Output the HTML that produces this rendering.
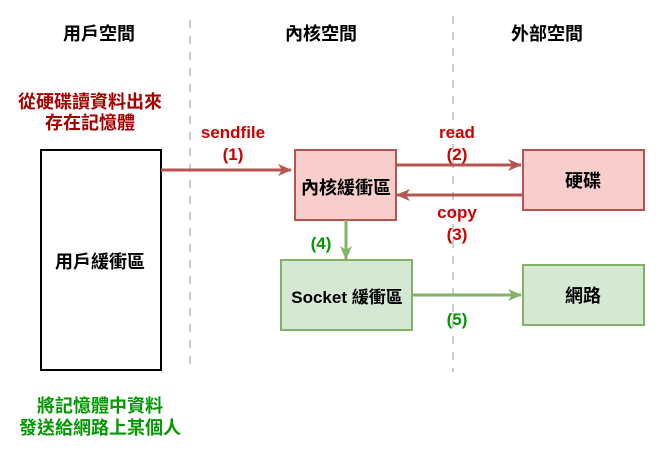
<!DOCTYPE html>
<html><head><meta charset="utf-8"><style>
body{margin:0;width:661px;height:451px;background:#fff;overflow:hidden}
svg text{font-family:"Liberation Sans","Noto Sans CJK TC",sans-serif;font-weight:bold;text-anchor:middle}
</style></head><body>
<svg width="661" height="451" viewBox="0 0 661 451">
<defs>
<marker id="ar" markerWidth="14" markerHeight="14" refX="13" refY="7" orient="auto" markerUnits="userSpaceOnUse"><path d="M0,1 L14,7 L0,13 L4,7 z" fill="#b85450"/></marker>
<marker id="ag" markerWidth="14" markerHeight="14" refX="13" refY="7" orient="auto" markerUnits="userSpaceOnUse"><path d="M0,1 L14,7 L0,13 L4,7 z" fill="#82b366"/></marker>
</defs>
<line x1="190" y1="20" x2="190" y2="372" stroke="#ccc" stroke-width="2" stroke-dasharray="8,8"/>
<line x1="453" y1="16" x2="453" y2="372" stroke="#ccc" stroke-width="2" stroke-dasharray="8,8"/>
<g font-size="18" fill="#000">
<text x="99" y="40">用戶空間</text>
<text x="321" y="40">內核空間</text>
<text x="547" y="40">外部空間</text>
</g>
<g font-size="18" fill="#a50000">
<text x="90" y="108">從硬碟讀資料出來</text>
<text x="90" y="129">存在記憶體</text>
</g>
<g font-size="18" fill="#009900">
<text x="100" y="412">將記憶體中資料</text>
<text x="100" y="434">發送給網路上某個人</text>
</g>
<rect x="41" y="150" width="120" height="220" fill="#fff" stroke="#000" stroke-width="2"/>
<text x="100" y="268" font-size="18">用戶緩衝區</text>
<rect x="295" y="150" width="101" height="70" fill="#f8cecc" stroke="#b85450" stroke-width="2"/>
<text x="346" y="194" font-size="18">內核緩衝區</text>
<rect x="523" y="150" width="121" height="60" fill="#f8cecc" stroke="#b85450" stroke-width="2"/>
<text x="583" y="187" font-size="18">硬碟</text>
<rect x="281" y="260" width="131" height="70" fill="#d5e8d4" stroke="#82b366" stroke-width="2"/>
<text x="347" y="303" font-size="17">Socket 緩衝區</text>
<rect x="523" y="265" width="121" height="60" fill="#d5e8d4" stroke="#82b366" stroke-width="2"/>
<text x="583" y="302" font-size="18">網路</text>
<line x1="161" y1="170" x2="291" y2="170" stroke="#b85450" stroke-width="3" marker-end="url(#ar)"/>
<line x1="396" y1="165" x2="521" y2="165" stroke="#b85450" stroke-width="3" marker-end="url(#ar)"/>
<line x1="523" y1="195" x2="397" y2="195" stroke="#b85450" stroke-width="3" marker-end="url(#ar)"/>
<line x1="346" y1="220" x2="346" y2="259" stroke="#82b366" stroke-width="3" marker-end="url(#ag)"/>
<line x1="412" y1="295" x2="521" y2="295" stroke="#82b366" stroke-width="3" marker-end="url(#ag)"/>
<g font-size="17" fill="#cc0000">
<text x="233" y="138">sendfile</text>
<text x="233" y="160">(1)</text>
<text x="457" y="138">read</text>
<text x="457" y="160">(2)</text>
<text x="457" y="218">copy</text>
<text x="457" y="240">(3)</text>
</g>
<g font-size="17" fill="#009900">
<text x="321" y="249">(4)</text>
<text x="457" y="325">(5)</text>
</g>
</svg>
</body></html>
